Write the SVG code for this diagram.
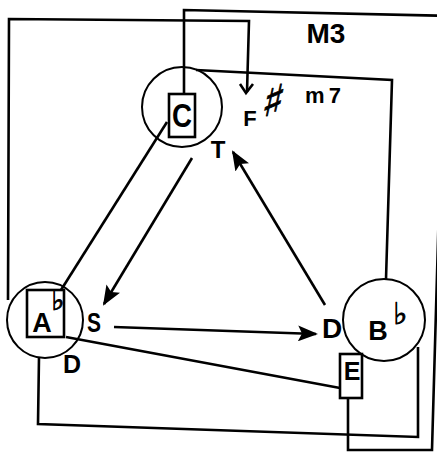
<svg xmlns="http://www.w3.org/2000/svg" width="437" height="454" viewBox="0 0 437 454">
<style>
.ln{fill:none;stroke:#000;stroke-width:2.6;stroke-linejoin:miter}
.thin{fill:none;stroke:#000;stroke-width:2}
.t{font-family:"Liberation Sans",Arial,sans-serif;font-weight:bold;fill:#000}
.sym{font-family:"DejaVu Sans","DejaVu Serif",sans-serif;font-weight:normal;fill:#000;stroke:#000;stroke-width:0.8}
</style>
<defs>
<marker id="ah" viewBox="0 0 20 16" refX="18" refY="8" markerWidth="20" markerHeight="16" markerUnits="userSpaceOnUse" orient="auto">
<path d="M0,0 L20,8 L0,16 L4,8 Z" fill="#000"/>
</marker>
</defs>
<rect width="437" height="454" fill="#fff"/>
<g id="connectors">
<path class="ln" d="M184,94 L184,10 L452,16 L440,170 L432,450 L348,450 L348,398"/>
<path class="ln" d="M8,300 L9,19 L249,21 L247,92"/>
<path class="ln" d="M240,84 L246,93 L253,84"/>
<path class="ln" d="M196,70 L392,80 L386,279"/>
<path class="ln" d="M39,357 L38,424 L418,437 L418,347"/>
<path class="ln" d="M167,122 L61,290"/>
<path class="ln" d="M66,337 L340,388"/>
<path class="ln" d="M192,158 L104,304" marker-end="url(#ah)"/>
<path class="ln" d="M325,305 L233,152" marker-end="url(#ah)"/>
<path class="ln" d="M114,327 L316,334" marker-end="url(#ah)"/>
</g>
<g id="node-C">
<circle class="thin" cx="182" cy="107" r="40"/>
<rect class="ln" x="169" y="94" width="26" height="43"/>
<text class="t" x="182" y="127" font-size="34" text-anchor="middle" textLength="20" lengthAdjust="spacingAndGlyphs">C</text>
</g>
<g id="node-A">
<circle class="thin" cx="45" cy="320" r="38"/>
<rect class="ln" x="27" y="290" width="37" height="47"/>
<text class="t" x="42" y="332" font-size="27" text-anchor="middle">A</text>
<text class="sym" x="58" y="310" font-size="28" text-anchor="middle">♭</text>
</g>
<g id="node-B">
<circle class="thin" cx="384" cy="320" r="41"/>
<text class="t" x="378" y="340" font-size="27" text-anchor="middle">B</text>
<text class="sym" x="400" y="324" font-size="30" text-anchor="middle">♭</text>
</g>
<g id="node-E">
<rect class="ln" x="340" y="354" width="22" height="44"/>
<text class="t" x="352" y="380" font-size="25" text-anchor="middle">E</text>
</g>
<g id="labels">
<text class="t" x="326" y="43" font-size="28" text-anchor="middle">M3</text>
<text class="t" x="325" y="103" font-size="22" text-anchor="middle" letter-spacing="4">m7</text>
<text class="t" x="250" y="126" font-size="22" text-anchor="middle">F</text>
<text class="sym" x="273" y="116" font-size="44" text-anchor="middle" transform="translate(273,104) skewX(-12) translate(-273,-104)">♯</text>
<text class="t" x="218" y="158" font-size="24" text-anchor="middle">T</text>
<text class="t" x="94" y="332" font-size="28" text-anchor="middle" textLength="14" lengthAdjust="spacingAndGlyphs">S</text>
<text class="t" x="72" y="373" font-size="25" text-anchor="middle">D</text>
<text class="t" x="332" y="338" font-size="28" text-anchor="middle">D</text>
</g>
</svg>
